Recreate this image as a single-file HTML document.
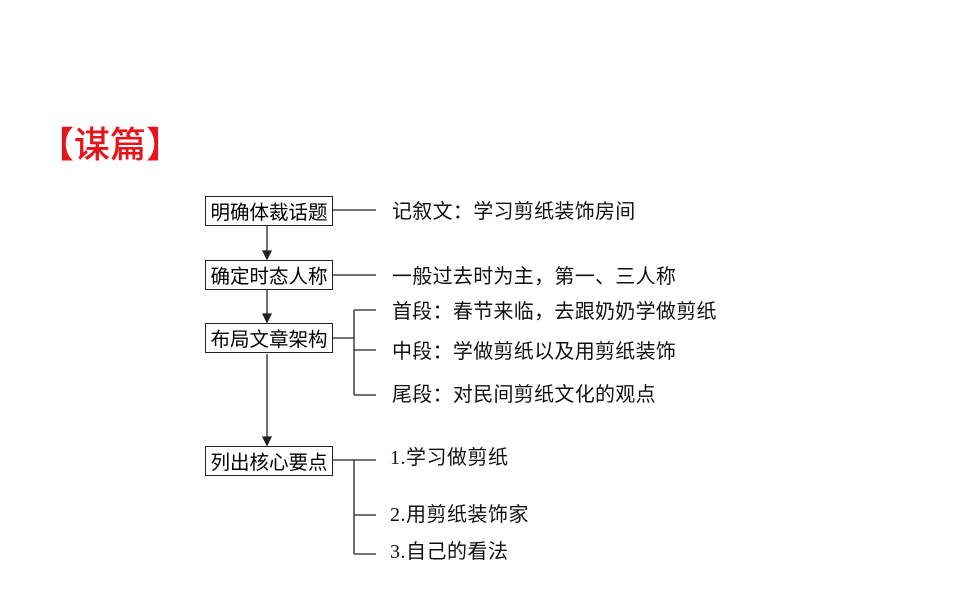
<!DOCTYPE html>
<html><head><meta charset="utf-8"><style>
body{margin:0;width:960px;height:599px;background:#fff;position:relative;overflow:hidden;font-family:"Liberation Serif","Noto Sans CJK SC",sans-serif;}
.t{position:absolute;font-size:20px;color:#111;white-space:nowrap;line-height:1;}
.s{font-family:'Noto Sans CJK SC',sans-serif;letter-spacing:0.3px}
.b{position:absolute;left:205px;width:126px;height:28px;border:1.5px solid #222;font-size:19.5px;line-height:28px;text-align:center;font-family:"Noto Sans CJK SC",sans-serif;}
</style></head><body>
<div style="position:absolute;left:38px;top:124px;font-size:36px;color:#e8141b;font-weight:500;font-family:'Noto Sans CJK SC',sans-serif;line-height:1;letter-spacing:0px">【谋篇】</div>
<svg width="960" height="599" style="position:absolute;left:0;top:0" stroke="#222" stroke-width="1.3" fill="none">
<line x1="267" y1="226" x2="267" y2="258"/><polygon points="263,251 271,251 267,259" fill="#222"/>
<line x1="267" y1="290" x2="267" y2="321"/><polygon points="263,314 271,314 267,322" fill="#222"/>
<line x1="267" y1="354" x2="267" y2="444"/><polygon points="263,437 271,437 267,445" fill="#222"/>
<line x1="333" y1="210" x2="376" y2="210"/>
<line x1="333" y1="275" x2="376" y2="275"/>
<line x1="333" y1="338" x2="354" y2="338"/>
<line x1="354" y1="310" x2="354" y2="395"/>
<line x1="354" y1="310" x2="376" y2="310"/>
<line x1="354" y1="350" x2="376" y2="350"/>
<line x1="354" y1="395" x2="376" y2="395"/>
<line x1="333" y1="460" x2="376" y2="460"/>
<line x1="354" y1="460" x2="354" y2="554"/>
<line x1="354" y1="515" x2="376" y2="515"/>
<line x1="354" y1="554" x2="376" y2="554"/>
</svg>
<div class="b" style="top:196px">明确体裁话题</div>
<div class="b" style="top:260px">确定时态人称</div>
<div class="b" style="top:323px">布局文章架构</div>
<div class="b" style="top:446px">列出核心要点</div>
<div class="t s" style="left:392px;top:200px">记叙文：学习剪纸装饰房间</div>
<div class="t s" style="left:392px;top:265px">一般过去时为主，第一、三人称</div>
<div class="t s" style="left:392px;top:300px">首段：春节来临，去跟奶奶学做剪纸</div>
<div class="t s" style="left:392px;top:340px">中段：学做剪纸以及用剪纸装饰</div>
<div class="t s" style="left:392px;top:383px">尾段：对民间剪纸文化的观点</div>
<div class="t" style="left:390px;top:448px;letter-spacing:0.5px">1.学习做剪纸</div>
<div class="t" style="left:390px;top:505px;letter-spacing:0.5px">2.用剪纸装饰家</div>
<div class="t" style="left:390px;top:542px;letter-spacing:0.5px">3.自己的看法</div>
</body></html>
